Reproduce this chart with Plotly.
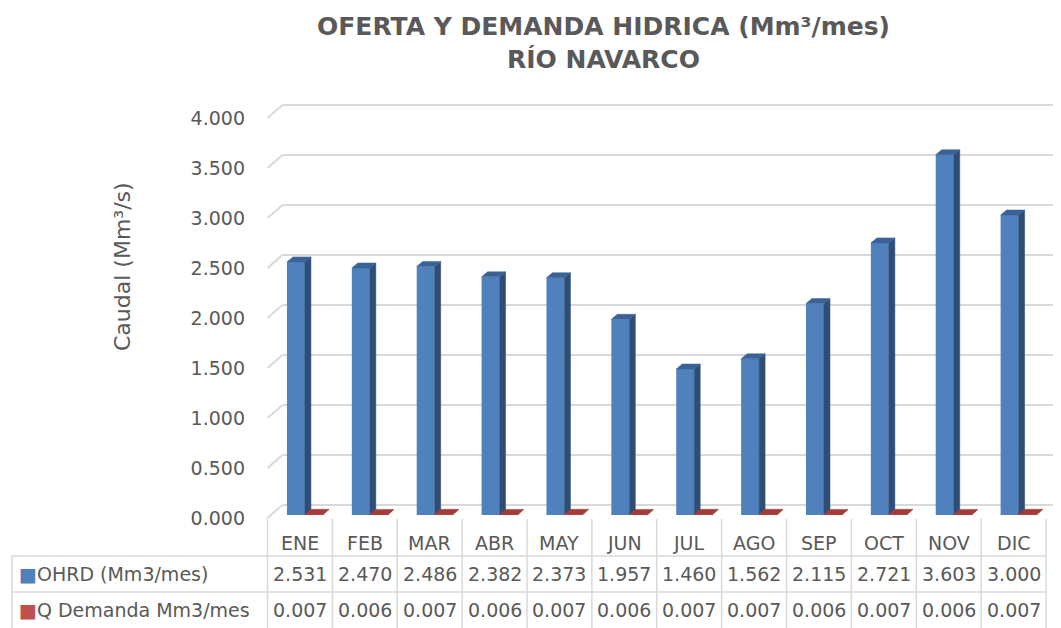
import plotly.graph_objects as go

# ---------------- data ----------------
months = ["ENE", "FEB", "MAR", "ABR", "MAY", "JUN", "JUL", "AGO", "SEP", "OCT", "NOV", "DIC"]
ohrd = [2.531, 2.470, 2.486, 2.382, 2.373, 1.957, 1.460, 1.562, 2.115, 2.721, 3.603, 3.000]
demanda = [0.007, 0.006, 0.007, 0.006, 0.007, 0.006, 0.007, 0.007, 0.006, 0.007, 0.006, 0.007]
series_names = ["OHRD (Mm3/mes)", "Q Demanda Mm3/mes"]
y_ticks = [0.0, 0.5, 1.0, 1.5, 2.0, 2.5, 3.0, 3.5, 4.0]
title_text = "OFERTA Y DEMANDA HIDRICA (Mm³/mes)<br>RÍO NAVARCO"
y_title = "Caudal (Mm³/s)"

# ---------------- layout geometry (screen pixels) ----------------
W, H = 1061, 628
OFF = 8         # default page body margin
FW, FH = W - OFF, H - OFF
PX = 64.88      # pixels per category
X0PX = 267.5    # pixel of category edge -0.5
Y0PX = 518.0    # pixel of value 0 (front plane)
PY = 100.0      # pixels per value unit


def xd(px):
    return -0.5 + (px - X0PX) / PX


def yd(py):
    return (Y0PX - py) / PY


def xp(px):
    return (px - OFF) / FW


def yp(py):
    return 1 - (py - OFF) / FH


BAR_W = 18 / PX
SHIFT = 5 / PX
BASE = 0.03
DX = 6 / PX
DY = 0.05
DXW = 15 / PX
DYW = 0.13

BLUE, BLUE_SIDE, BLUE_TOP = "#4F81BD", "#2F4E76", "#3B6296"
RED, RED_SIDE, RED_TOP = "#C0504D", "#7E2F2D", "#A33C39"
GRID = "#D9D9D9"
TXT = "#595959"
FONT = "DejaVu Sans"

idx = list(range(len(months)))

fig = go.Figure()


def add_series(vals, left_off, front, side, top, name):
    fig.add_trace(go.Bar(x=idx, y=vals, base=BASE, width=BAR_W, offset=left_off,
                         marker=dict(color=front, line=dict(width=0)), name=name,
                         hoverinfo="skip"))
    sx, sy, tx, ty = [], [], [], []
    for i, v in zip(idx, vals):
        xl = i + left_off
        xr = xl + BAR_W
        y0 = BASE
        y1 = BASE + v
        sx += [xr, xr + DX, xr + DX, xr, xr, None]
        sy += [y0, y0 + DY, y1 + DY, y1, y0, None]
        tx += [xl, xr, xr + DX, xl + DX, xl, None]
        ty += [y1, y1, y1 + DY, y1 + DY, y1, None]
    fig.add_trace(go.Scatter(x=sx, y=sy, mode="lines", fill="toself", fillcolor=side,
                             line=dict(color=side, width=0.5), hoverinfo="skip"))
    fig.add_trace(go.Scatter(x=tx, y=ty, mode="lines", fill="toself", fillcolor=top,
                             line=dict(color=top, width=0.5), hoverinfo="skip"))


add_series(ohrd, SHIFT - BAR_W, BLUE, BLUE_SIDE, BLUE_TOP, series_names[0])
add_series(demanda, SHIFT, RED, RED_SIDE, RED_TOP, series_names[1])

shapes = []
# back-wall gridlines with left side-wall diagonals
for t in y_ticks:
    shapes.append(dict(type="line", xref="x", yref="y", x0=-0.5, y0=t, x1=-0.5 + DXW, y1=t + DYW,
                       line=dict(color=GRID, width=2), layer="below"))
    shapes.append(dict(type="line", xref="x", yref="y", x0=-0.5 + DXW, y0=t + DYW, x1=xd(W) + 1, y1=t + DYW,
                       line=dict(color=GRID, width=2), layer="below"))

# data table grid
for k in range(len(months) + 1):
    shapes.append(dict(type="line", xref="x", yref="y", x0=k - 0.5, x1=k - 0.5, y0=yd(519), y1=yd(H + 2),
                       line=dict(color=GRID, width=1.5)))
shapes.append(dict(type="line", xref="x", yref="y", x0=xd(12), x1=xd(12), y0=yd(556), y1=yd(H + 2),
                   line=dict(color=GRID, width=1.5)))
for py in (556, 592):
    shapes.append(dict(type="line", xref="x", yref="y", x0=xd(12), x1=len(months) - 0.5, y0=yd(py), y1=yd(py),
                       line=dict(color=GRID, width=1.5)))

ann = []
tf = dict(family=FONT, size=19, color=TXT)
for i, m in enumerate(months):
    ann.append(dict(x=i, y=yd(543), xref="x", yref="y", text=m, showarrow=False, font=tf))
    ann.append(dict(x=i, y=yd(574), xref="x", yref="y", text=f"{ohrd[i]:.3f}", showarrow=False, font=tf))
    ann.append(dict(x=i, y=yd(610), xref="x", yref="y", text=f"{demanda[i]:.3f}", showarrow=False, font=tf))
for py, col, nm in ((574, BLUE, series_names[0]), (610, RED, series_names[1])):
    ann.append(dict(x=xd(17), y=yd(py), xref="x", yref="y", xanchor="left", showarrow=False, font=tf,
                    text=f"<span style='color:{col}'>■</span>{nm}"))

ann.append(dict(x=xp(603), y=yp(43), xref="paper", yref="paper", xanchor="center", yanchor="middle",
                text=f"<b>{title_text}</b>", showarrow=False, font=dict(family=FONT, size=25, color=TXT)))
ann.append(dict(x=xp(122), y=yp(267), xref="paper", yref="paper", xanchor="center", yanchor="middle",
                text=y_title, textangle=-90, showarrow=False, font=dict(family=FONT, size=22, color=TXT)))

fig.update_layout(
    width=FW, height=FH,
    margin=dict(l=0, r=0, t=0, b=0),
    paper_bgcolor="white", plot_bgcolor="white",
    showlegend=False, barmode="overlay",
    shapes=shapes, annotations=ann,
    xaxis=dict(domain=[0, 1], range=[xd(OFF), xd(W)], visible=False, fixedrange=True),
    yaxis=dict(domain=[0, 1], range=[yd(H), yd(OFF)], anchor="free", position=xp(245),
               tickvals=y_ticks, tickformat=".3f", ticks="", showline=False, showgrid=False,
               zeroline=False, tickfont=dict(family=FONT, size=19, color=TXT), fixedrange=True),
)

fig.write_html("out.html")
